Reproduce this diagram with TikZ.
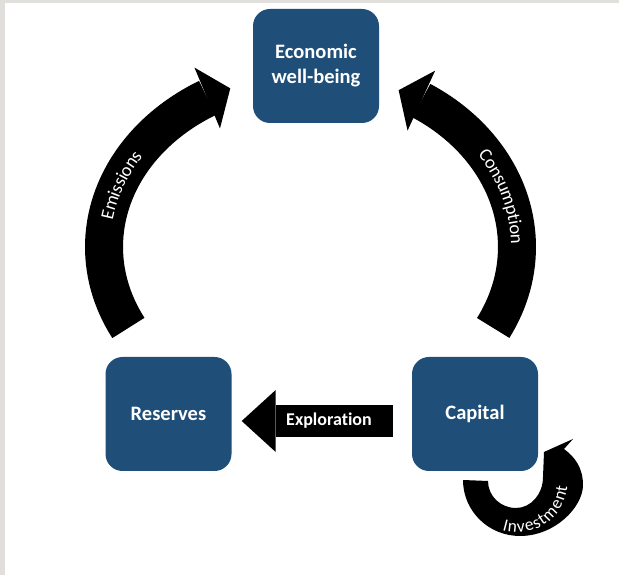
\documentclass[tikz,border=0pt]{standalone}
\usepackage{fontspec}
\setmainfont{Carlito}[Ligatures=NoCommon]
\usetikzlibrary{arrows.meta,bending,decorations.text,calc}
\definecolor{boxblue}{RGB}{31,78,121}
\definecolor{framegray}{RGB}{224,223,219}
\newcommand\arcfont{\fontsize{18.5}{22}\selectfont}
\newcommand\invfont{\fontsize{17.5}{20}\selectfont}
\begin{document}
\begin{tikzpicture}[x=1pt,y=1pt,
  box/.style={fill=boxblue, rounded corners=17pt, minimum width=126pt, minimum height=114pt,
    text=white, font=\fontsize{20.5}{25}\selectfont\bfseries, align=center, inner sep=0pt},
  band/.style={line width=38pt, black},
  bigtip/.style={-{Triangle[length=25pt,width=66pt,line width=0pt]}},
  arclabel/.style={decorate, decoration={text along path, text align=center, text color=white, raise=-6pt}},
  lbl/.style={text=white, font=\fontsize{18}{22}\selectfont\bfseries, inner sep=0pt}]
\useasboundingbox (0,0) rectangle (619,575);
\fill[framegray] (0,0) rectangle (619,575);
\fill[white] (4.7,0) rectangle (619,571.5);

% boxes
\node[box] (ewb) at (316,509) {Economic\\well-being};
\node[box] (res) at (168.5,161) {Reserves};
\node[box] (cap) at (475,161) {Capital};

% big circular arrows
\coordinate (ellL) at (314,328);
\coordinate (ellR) at (312,328);
\coordinate (emT) at ($(ellL)+(207.9:210 and 173)$);
\coordinate (coT) at ($(ellR)+(-27.9:205 and 173)$);
\coordinate (coH) at ($(ellR)+(65:205 and 173)$);

\draw[band, bigtip] (emT) arc[start angle=207.9, end angle=113.5, x radius=210, y radius=173];
\draw[band, bigtip] (coT) arc[start angle=-27.9, end angle=65, x radius=205, y radius=173];

\path[arclabel, decoration={text={|\arcfont|Emissions}}]
  (emT) arc[start angle=207.9, end angle=113.5, x radius=210, y radius=173];
\path[arclabel, decoration={text={|\arcfont|Consumption}}]
  (coH) arc[start angle=65, end angle=-33, x radius=205, y radius=173];

% exploration arrow
\draw[line width=32pt, -{Triangle[length=34pt,width=62pt,line width=0pt]}]
  ([xshift=-19pt,yshift=-7pt]cap.west) -- ([xshift=10pt,yshift=-7pt]res.east);
\node[lbl] (expl) at (329,154) {Exploration};

% investment self loop
\coordinate (invC) at (517,93);
\fill[black] (463,95) .. controls (463,64) and (488.5,39) .. (520,39)
  .. controls (555,39) and (583,68) .. (583,90)
  .. controls (583,107) and (575,118) .. (564,126)
  -- (573,136) -- (544,123) -- (543,98)
  .. controls (543,81) and (531,67) .. (516,67)
  .. controls (500.5,67) and (488,79) .. (488,94) -- cycle;
\path[arclabel, decoration={text={|\invfont|Investment}, raise=-5.5pt}]
  ($(invC)+(-116:45)$) arc[start angle=-116, end angle=4, radius=45];
\end{tikzpicture}
\end{document}
